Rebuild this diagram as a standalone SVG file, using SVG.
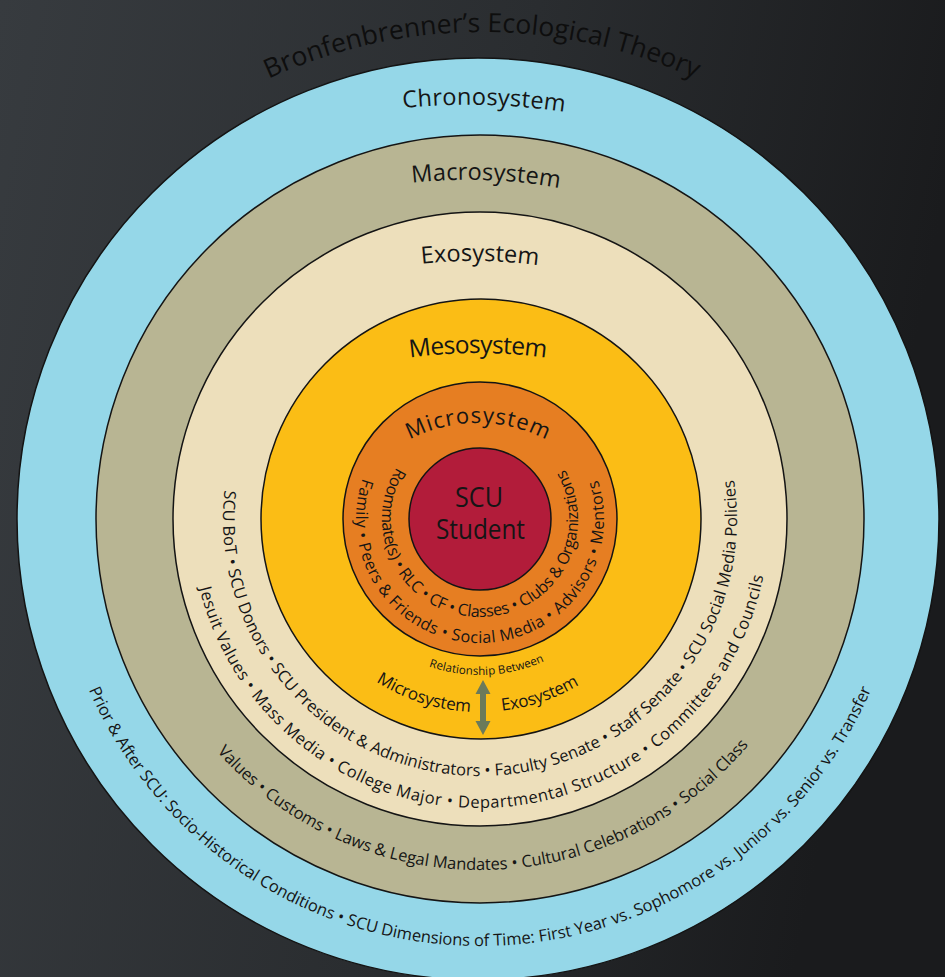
<svg xmlns="http://www.w3.org/2000/svg" width="945" height="977" viewBox="0 0 945 977">
<defs>
<linearGradient id="bg" x1="0" y1="0" x2="1" y2="0.2">
<stop offset="0" stop-color="#373b3f"/>
<stop offset="0.55" stop-color="#2a2d30"/>
<stop offset="1" stop-color="#1a1b1d"/>
</linearGradient>
<path id="pTitle" d="M154.2,151.3 A510,510 0 0 1 809.8,151.3"/>
<path id="pChrono" d="M259.6,144.6 A656,656 0 0 1 708.4,144.6"/>
<path id="pMacro" d="M315,210.2 A500,500 0 0 1 657,210.2"/>
<path id="pExo" d="M312.8,290.5 A489,489 0 0 1 647.2,290.5"/>
<path id="pMeso" d="M307,383.2 A500,500 0 0 1 649,383.2"/>
<path id="pMicro" d="M373.3,466.3 A148,148 0 0 1 582.7,466.3"/>
<path id="c98" d="M480,421 A98,98 0 0 0 480,617 A98,98 0 0 0 480,421"/>
<path id="c124" d="M480,395 A124,124 0 0 0 480,643 A124,124 0 0 0 480,395"/>
<path id="c156" d="M480,363 A156,156 0 0 0 480,675 A156,156 0 0 0 480,363"/>
<path id="c193" d="M480,326 A193,193 0 0 0 480,712 A193,193 0 0 0 480,326"/>
<path id="c257" d="M480,262 A257,257 0 0 0 480,776 A257,257 0 0 0 480,262"/>
<path id="c289" d="M480,230 A289,289 0 0 0 480,808 A289,289 0 0 0 480,230"/>
<path id="c351" d="M480,168 A351,351 0 0 0 480,870 A351,351 0 0 0 480,168"/>
<path id="c427" d="M480,92 A427,427 0 0 0 480,946 A427,427 0 0 0 480,92"/>
</defs>
<style>
.ring{stroke:#141414;stroke-width:1.5}
text{font-family:"Open Sans","Noto Sans",sans-serif;fill:#151515}
.lbl{font-size:23.5px}
.ln{font-size:16.5px}
.mic{font-size:16.2px}
</style>
<rect x="0" y="0" width="945" height="977" fill="url(#bg)"/>

<g id="title">
<text font-size="26.5" style="fill:#0e0e0e"><textPath href="#pTitle" startOffset="50%" text-anchor="middle" textLength="440" lengthAdjust="spacing">Bronfenbrenner’s Ecological Theory</textPath></text>
</g>

<g id="chronosystem">
<circle class="ring" cx="478" cy="519" r="461" fill="#95d7e8"/>
<text class="lbl" transform="rotate(1.4 484 105)"><textPath href="#pChrono" startOffset="50%" text-anchor="middle" textLength="162" lengthAdjust="spacing">Chronosystem</textPath></text>
<text class="ln"><textPath href="#c427" startOffset="845.9" textLength="990" lengthAdjust="spacing">Prior &amp; After SCU: Socio-Historical Conditions • SCU Dimensions of Time: First Year vs. Sophomore vs. Junior vs. Senior vs. Transfer</textPath></text>
</g>

<g id="macrosystem">
<circle class="ring" cx="480" cy="519" r="384" fill="#b8b593"/>
<text class="lbl" transform="rotate(2 486 180)"><textPath href="#pMacro" startOffset="50%" text-anchor="middle" textLength="148" lengthAdjust="spacing">Macrosystem</textPath></text>
<text class="ln"><textPath href="#c351" startOffset="805" textLength="603" lengthAdjust="spacing">Values • Customs • Laws &amp; Legal Mandates • Cultural Celebrations • Social Class</textPath></text>
</g>

<g id="exosystem">
<circle class="ring" cx="480" cy="519" r="307" fill="#eddfbb"/>
<text class="lbl" transform="rotate(0.8 480 261)"><textPath href="#pExo" startOffset="50%" text-anchor="middle" textLength="117" lengthAdjust="spacing">Exosystem</textPath></text>
<text class="ln"><textPath href="#c257" startOffset="374.5" textLength="875.6" lengthAdjust="spacing">SCU BoT • SCU Donors • SCU President &amp; Administrators • Faculty Senate • Staff Senate • SCU Social Media Policies</textPath></text>
<text class="ln"><textPath href="#c289" startOffset="523.6" textLength="780.3" lengthAdjust="spacing">Jesuit Values • Mass Media • College Major • Departmental Structure • Committees and Councils</textPath></text>
</g>

<g id="mesosystem">
<circle class="ring" cx="481" cy="519" r="220" fill="#fbbd15"/>
<text font-size="24.5"><textPath href="#pMeso" startOffset="50%" text-anchor="middle" textLength="137" lengthAdjust="spacing">Mesosystem</textPath></text>
<text font-size="11.5"><textPath href="#c156" startOffset="437.8" textLength="118.4" lengthAdjust="spacing">Relationship Between</textPath></text>
<text font-size="17"><textPath href="#c193" startOffset="496.5" textLength="100" lengthAdjust="spacing">Microsystem</textPath></text>
<text font-size="17"><textPath href="#c193" startOffset="628.2" textLength="82" lengthAdjust="spacing">Exosystem</textPath></text>
</g>

<g id="microsystem">
<circle class="ring" cx="480" cy="519" r="137" fill="#e67e22"/>
<text font-size="22"><textPath href="#pMicro" startOffset="50%" text-anchor="middle" textLength="142" lengthAdjust="spacing">Microsystem</textPath></text>
<text class="mic"><textPath href="#c98" startOffset="99.2" textLength="414" lengthAdjust="spacing">Roommate(s) • RLC • CF • Classes • Clubs &amp; Organizations</textPath></text>
<text class="mic"><textPath href="#c124" startOffset="153.2" textLength="470.7" lengthAdjust="spacing">Family • Peers &amp; Friends • Social Media • Advisors • Mentors</textPath></text>
</g>

<g id="student">
<circle class="ring" cx="480" cy="519" r="71" fill="#b21c3a"/>
<text font-size="27" x="479" y="507" text-anchor="middle" textLength="48" lengthAdjust="spacingAndGlyphs">SCU</text>
<text font-size="27" x="480.5" y="539" text-anchor="middle" textLength="89" lengthAdjust="spacingAndGlyphs">Student</text>
</g>

<g id="connectors">
<path d="M483,680 L490.5,694 L486,694 L486,721 L490.5,721 L483,735 L475.5,721 L480,721 L480,694 L475.5,694 Z" fill="#6b7a5a"/>
</g>
</svg>
